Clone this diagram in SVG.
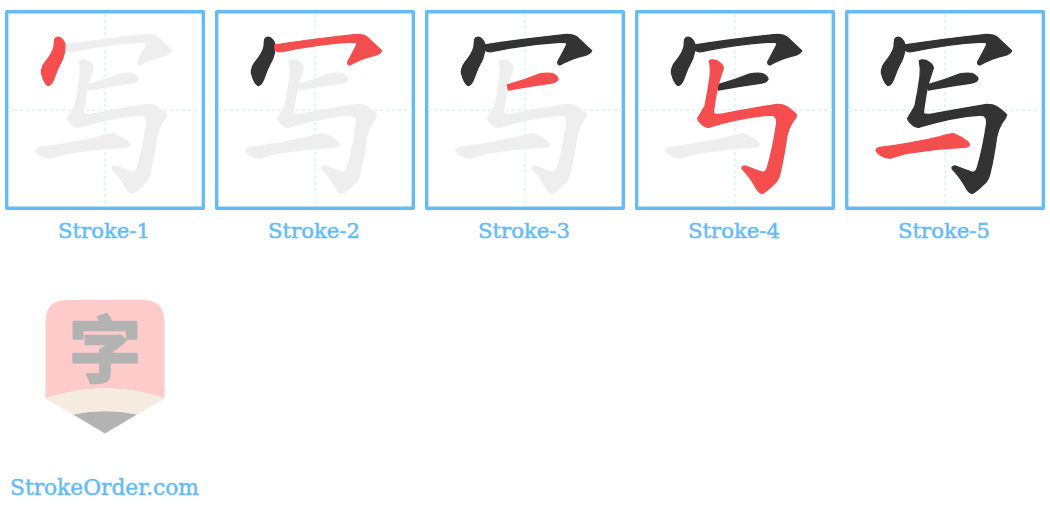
<svg xmlns="http://www.w3.org/2000/svg" width="1050" height="514" viewBox="0 0 1050 514">
<style>
.box{fill:#fff;stroke:#64bbf6;stroke-width:3.400}
.grid{stroke:#e3f5fb;stroke-width:2;stroke-dasharray:3 3;fill:none}
.lbl{font-family:"DejaVu Serif",serif;font-size:21px;fill:#64bbf6;stroke:#64bbf6;stroke-width:.5;text-anchor:middle}
.g{fill:#eee;stroke:#eee}.k{fill:#333;stroke:#333}.r{fill:#f44e4e;stroke:#f44e4e}
use{stroke-width:4;stroke-linejoin:round}
</style>
<defs>
<path id="s1" transform="scale(.3333)" d="M164 118Q170 109 180 113Q192 120 195 135Q196 155 188 176Q172 205 160 240Q152 258 143 256Q132 250 124 218Q124 202 135 187Q158 160 162 140Z"/>
<path id="s2" transform="scale(.3333)" d="M195 135Q300 118 440 103Q462 103 472 112L515 152Q510 162 495 166Q455 175 420 195Q412 193 413 186L440 135Q442 126 428 126Q320 132 215 155Q203 157 195 150Z"/>
<path id="s3" transform="scale(.3333)" d="M262 255Q310 242 360 222Q385 217 400 222Q415 230 414 238Q410 247 395 249Q330 258 265 270Z"/>
<path id="s4" transform="scale(.3333)" d="M238 183Q243 177 258 181Q280 192 280 205Q268 240 262 262Q253 310 250 340Q256 345 270 343Q350 328 440 313Q460 313 470 320Q495 338 500 345Q498 355 487 367Q475 385 470 410Q462 470 450 520Q445 542 432 552Q412 572 398 580Q388 580 382 570Q360 530 337 507Q333 500 345 498Q375 510 398 517Q408 517 413 500Q430 440 440 370Q442 348 425 345Q340 350 240 381Q228 384 218 375Q205 365 203 355Q215 335 225 318Q235 270 240 230Q243 205 238 183Z"/>
<path id="s5" transform="scale(.3333)" d="M108 451Q110 444 120 442Q210 432 300 410Q325 402 340 401Q365 410 385 427Q393 437 380 441Q290 445 200 460Q170 468 150 475Q135 475 120 465Q110 458 108 451Z"/>
<g id="frame">
<rect class="box" x="6.700" y="11.700" width="196.600" height="196.600"/>
<path class="grid" d="M105 14V206M8 110H202"/>
</g>
</defs>
<g id="panel-1">
<use href="#frame"/>
<use href="#s2" class="g"/><use href="#s3" class="g"/><use href="#s4" class="g"/><use href="#s5" class="g"/><use href="#s1" class="r"/>
<text class="lbl" x="104" y="238" textLength="92" lengthAdjust="spacingAndGlyphs">Stroke-1</text>
</g>
<g id="panel-2" transform="translate(210 0)">
<use href="#frame"/>
<use href="#s3" class="g"/><use href="#s4" class="g"/><use href="#s5" class="g"/><use href="#s1" class="k"/><use href="#s2" class="r"/>
<text class="lbl" x="104" y="238" textLength="92" lengthAdjust="spacingAndGlyphs">Stroke-2</text>
</g>
<g id="panel-3" transform="translate(420 0)">
<use href="#frame"/>
<use href="#s4" class="g"/><use href="#s5" class="g"/><use href="#s1" class="k"/><use href="#s2" class="k"/><use href="#s3" class="r"/>
<text class="lbl" x="104" y="238" textLength="92" lengthAdjust="spacingAndGlyphs">Stroke-3</text>
</g>
<g id="panel-4" transform="translate(630 0)">
<use href="#frame"/>
<use href="#s5" class="g"/><use href="#s1" class="k"/><use href="#s2" class="k"/><use href="#s3" class="k"/><use href="#s4" class="r"/>
<text class="lbl" x="104" y="238" textLength="92" lengthAdjust="spacingAndGlyphs">Stroke-4</text>
</g>
<g id="panel-5" transform="translate(840 0)">
<use href="#frame"/>
<use href="#s1" class="k"/><use href="#s2" class="k"/><use href="#s3" class="k"/><use href="#s4" class="k"/><use href="#s5" class="r"/>
<text class="lbl" x="104" y="238" textLength="92" lengthAdjust="spacingAndGlyphs">Stroke-5</text>
</g>
<g id="logo">
<path fill="#fecbcb" d="M45.500 398.500V322Q45.500 300 67 300H143Q164.500 300 164.500 322V398.500Q105 378 45.500 398.500Z"/>
<path fill="#f6ebe0" d="M45.500 398.500Q105 378 164.500 398.500L137 414.500Q105 408 73 414.500Z"/>
<path fill="#b3b3b3" d="M73 414.500Q105 408 137 414.500L105 433.500Z"/>
<text x="105" y="376" font-family="'Noto Sans CJK SC',sans-serif" font-size="72" font-weight="700" fill="#b3b3b3" stroke="#b3b3b3" stroke-width="2.500" stroke-linejoin="round" text-anchor="middle">字</text>
<text class="lbl" x="104.500" y="495" style="font-size:23px" textLength="189" lengthAdjust="spacingAndGlyphs">StrokeOrder.com</text>
</g>
</svg>
